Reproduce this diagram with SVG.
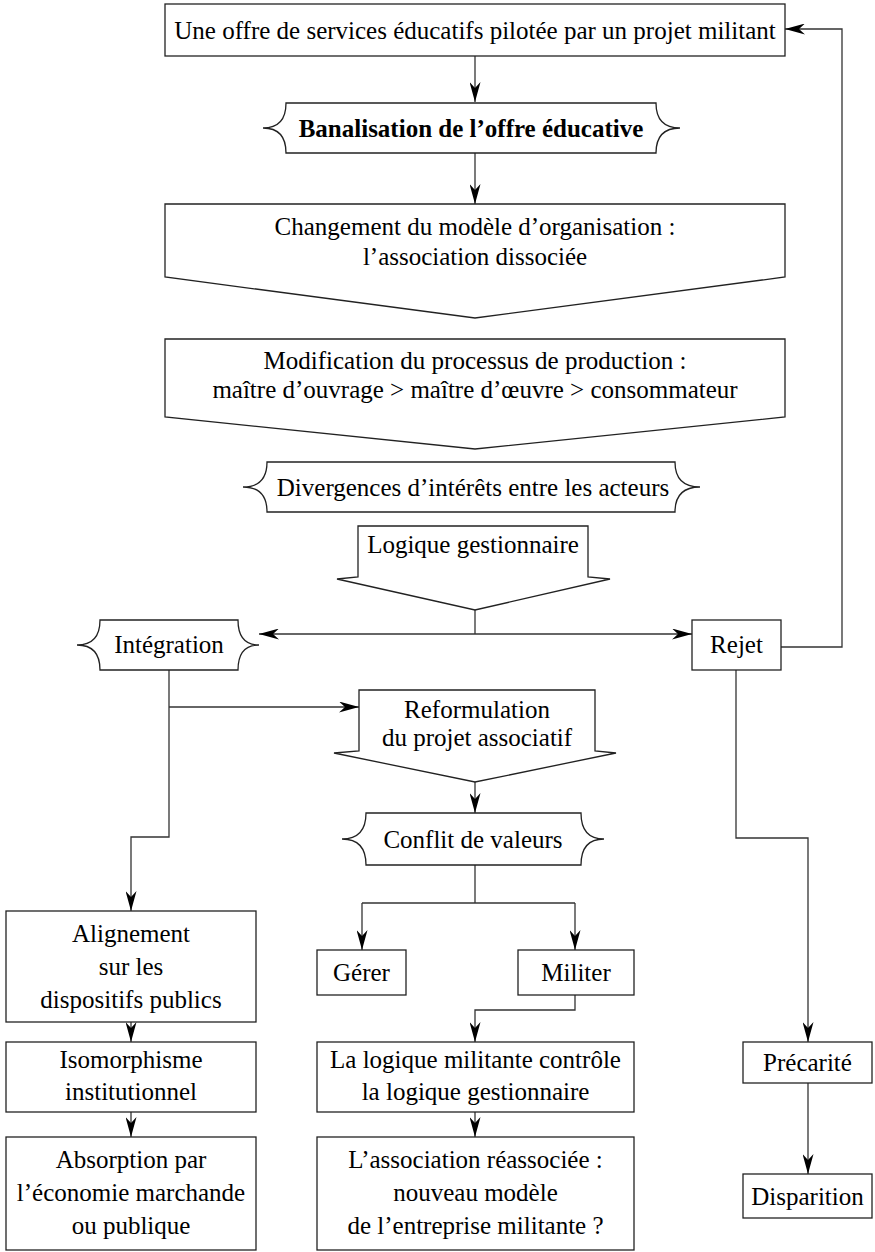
<svg xmlns="http://www.w3.org/2000/svg" width="875" height="1252" viewBox="0 0 875 1252">
<style>
.s{fill:#fff;stroke:#222;stroke-width:1.3}
.t{font-family:"Liberation Serif","Times New Roman",serif;font-size:25px;fill:#000;text-anchor:middle}
.b{font-weight:bold}
.c{fill:none;stroke:#333;stroke-width:1.3}
</style>
<defs>
<marker id="ah" viewBox="0 0 20 11" refX="20" refY="5.5" markerWidth="20" markerHeight="11" markerUnits="userSpaceOnUse" orient="auto-start-reverse">
<path d="M0,0 L20,5.5 L0,11 L6,5.5 Z" fill="#000"/>
</marker>
</defs>
<rect width="875" height="1252" fill="#fff"/>
<g id="connectors">
<path class="c" d="M475,56 V102" marker-end="url(#ah)"/>
<path class="c" d="M475,153 V204" marker-end="url(#ah)"/>
<path class="c" d="M475,610 V634"/>
<path class="c" d="M259,634 H692" marker-start="url(#ah)" marker-end="url(#ah)"/>
<path class="c" d="M781,647 H842 V29 H785" marker-end="url(#ah)"/>
<path class="c" d="M169,670 V837 H131 V911" marker-end="url(#ah)"/>
<path class="c" d="M169,707 H359" marker-end="url(#ah)"/>
<path class="c" d="M475,782 V813" marker-end="url(#ah)"/>
<path class="c" d="M736,670 V838 H808 V1042" marker-end="url(#ah)"/>
<path class="c" d="M475,865 V903"/>
<path class="c" d="M362,903 H575"/>
<path class="c" d="M362,903 V950" marker-end="url(#ah)"/>
<path class="c" d="M575,903 V950" marker-end="url(#ah)"/>
<path class="c" d="M575,995 V1010 H475 V1042" marker-end="url(#ah)"/>
<path class="c" d="M131,1022 V1042" marker-end="url(#ah)"/>
<path class="c" d="M131,1112 V1137" marker-end="url(#ah)"/>
<path class="c" d="M475,1112 V1137" marker-end="url(#ah)"/>
<path class="c" d="M808,1083 V1174" marker-end="url(#ah)"/>
</g>
<g id="n-offre">
<rect class="s" x="165" y="4" width="620" height="52"/>
<text class="t" x="475" y="39">Une offre de services éducatifs pilotée par un projet militant</text>
</g>
<g id="n-banalisation">
<path class="s" d="M286,103 H656 Q656,128 680,128 Q656,128 656,153 H286 Q286,128 263,128 Q286,128 286,103 Z"/>
<text class="t b" x="471" y="137">Banalisation de l’offre éducative</text>
</g>
<g id="n-changement">
<path class="s" d="M165,204 H785 V277 L475,318 L165,277 Z"/>
<text class="t" x="475" y="235">Changement du modèle d’organisation :</text>
<text class="t" x="475" y="265">l’association dissociée</text>
</g>
<g id="n-modification">
<path class="s" d="M165,339 H785 V417 L475,449 L165,417 Z"/>
<text class="t" x="475" y="369">Modification du processus de production :</text>
<text class="t" x="475" y="398">maître d’ouvrage &gt; maître d’œuvre &gt; consommateur</text>
</g>
<g id="n-divergences">
<path class="s" d="M267,462 H675 Q675,487 700,487 Q675,487 675,512 H267 Q267,487 243,487 Q267,487 267,462 Z"/>
<text class="t" x="473" y="496">Divergences d’intérêts entre les acteurs</text>
</g>
<g id="n-logique">
<path class="s" d="M358,526 H588 V577 L610,579 L475,610 L337,579 L358,577 Z"/>
<text class="t" x="473" y="553">Logique gestionnaire</text>
</g>
<g id="n-integration">
<path class="s" d="M100,620 H238 Q238,645 259,645 Q238,645 238,670 H100 Q100,645 77,645 Q100,645 100,620 Z"/>
<text class="t" x="169" y="653">Intégration</text>
</g>
<g id="n-rejet">
<rect class="s" x="692" y="620" width="89" height="50"/>
<text class="t" x="736.5" y="653">Rejet</text>
</g>
<g id="n-reformulation">
<path class="s" d="M359,690 H595 V751 L616,753 L475,782 L334,753 L359,751 Z"/>
<text class="t" x="477" y="718">Reformulation</text>
<text class="t" x="477" y="746">du projet associatif</text>
</g>
<g id="n-conflit">
<path class="s" d="M366,813 H581 Q581,839 604,839 Q581,839 581,865 H366 Q366,839 342,839 Q366,839 366,813 Z"/>
<text class="t" x="473" y="848">Conflit de valeurs</text>
</g>
<g id="n-gerer">
<rect class="s" x="317" y="950" width="89" height="45"/>
<text class="t" x="361.5" y="981">Gérer</text>
</g>
<g id="n-militer">
<rect class="s" x="518" y="950" width="116" height="45"/>
<text class="t" x="576" y="981">Militer</text>
</g>
<g id="n-alignement">
<rect class="s" x="6" y="911" width="250" height="111"/>
<text class="t" x="131" y="942">Alignement</text>
<text class="t" x="131" y="975">sur les</text>
<text class="t" x="131" y="1008">dispositifs publics</text>
</g>
<g id="n-isomorphisme">
<rect class="s" x="6" y="1042" width="250" height="70"/>
<text class="t" x="131" y="1068">Isomorphisme</text>
<text class="t" x="131" y="1100">institutionnel</text>
</g>
<g id="n-absorption">
<rect class="s" x="6" y="1137" width="250" height="113"/>
<text class="t" x="131" y="1168">Absorption par</text>
<text class="t" x="131" y="1201">l’économie marchande</text>
<text class="t" x="131" y="1234">ou publique</text>
</g>
<g id="n-controle">
<rect class="s" x="317" y="1042" width="317" height="70"/>
<text class="t" x="475.5" y="1068">La logique militante contrôle</text>
<text class="t" x="475.5" y="1100">la logique gestionnaire</text>
</g>
<g id="n-reassociee">
<rect class="s" x="317" y="1137" width="317" height="113"/>
<text class="t" x="475.5" y="1168">L’association réassociée :</text>
<text class="t" x="475.5" y="1201">nouveau modèle</text>
<text class="t" x="475.5" y="1234">de l’entreprise militante ?</text>
</g>
<g id="n-precarite">
<rect class="s" x="743" y="1042" width="129" height="41"/>
<text class="t" x="807.5" y="1071">Précarité</text>
</g>
<g id="n-disparition">
<rect class="s" x="743" y="1174" width="129" height="44"/>
<text class="t" x="807.5" y="1205">Disparition</text>
</g>
</svg>
